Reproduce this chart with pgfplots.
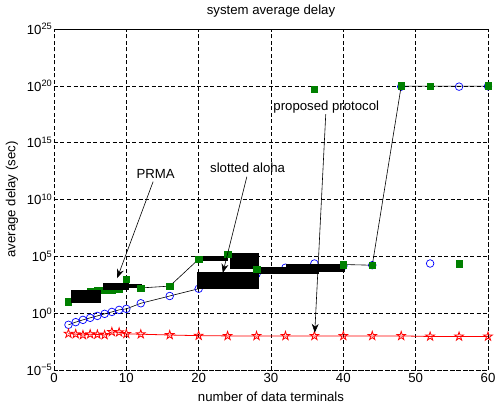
\documentclass[border=0pt]{standalone}
\usepackage{fontspec}
\setmainfont{Liberation Sans}
\usepackage{pgfplots}
\pgfplotsset{compat=1.18}
\usetikzlibrary{arrows.meta}

\pgfdeclareplotmark{pentagram}{%
  \pgfpathmoveto{\pgfqpoint{0pt}{\pgfplotmarksize}}%
  \pgfpathlineto{\pgfqpoint{-0.2245\pgfplotmarksize}{0.309\pgfplotmarksize}}%
  \pgfpathlineto{\pgfqpoint{-0.951\pgfplotmarksize}{0.309\pgfplotmarksize}}%
  \pgfpathlineto{\pgfqpoint{-0.363\pgfplotmarksize}{-0.118\pgfplotmarksize}}%
  \pgfpathlineto{\pgfqpoint{-0.588\pgfplotmarksize}{-0.809\pgfplotmarksize}}%
  \pgfpathlineto{\pgfqpoint{0pt}{-0.382\pgfplotmarksize}}%
  \pgfpathlineto{\pgfqpoint{0.588\pgfplotmarksize}{-0.809\pgfplotmarksize}}%
  \pgfpathlineto{\pgfqpoint{0.363\pgfplotmarksize}{-0.118\pgfplotmarksize}}%
  \pgfpathlineto{\pgfqpoint{0.951\pgfplotmarksize}{0.309\pgfplotmarksize}}%
  \pgfpathlineto{\pgfqpoint{0.2245\pgfplotmarksize}{0.309\pgfplotmarksize}}%
  \pgfpathclose
  \pgfusepathqstroke
}

\definecolor{mgreen}{RGB}{0,128,0}

\begin{document}
\fontsize{13.2}{15}\selectfont
\begin{tikzpicture}
\begin{axis}[
  scale only axis, width=434pt, height=341pt,
  xmin=0, xmax=60, ymode=log, ymin=1e-5, ymax=1e25,
  xtick={0,10,20,30,40,50,60},
  ytick={1e-5,1e0,1e5,1e10,1e15,1e20,1e25},
  yticklabels={10\textsuperscript{−5},10\textsuperscript{0},10\textsuperscript{5},10\textsuperscript{10},10\textsuperscript{15},10\textsuperscript{20},10\textsuperscript{25}},
  /pgf/number format/assume math mode=true,
  yminorticks=false, xminorticks=false,
  grid=major,
  major grid style={black, dash pattern=on 4pt off 2.5pt, line width=0.6pt},
  axis line style={black, dash pattern=on 4pt off 2.5pt, line width=0.6pt},
  tick style={draw=none},
  yticklabel style={inner xsep=1.5pt},
  xticklabel style={inner ysep=3pt},
  xlabel={number of data terminals},
  ylabel={average delay (sec)},
  title={system average delay},
  xlabel style={at={(axis description cs:0.5,-0.079)}, anchor=center},
  ylabel style={at={(axis description cs:-0.097,0.5)}, anchor=center},
  title style={at={(axis description cs:0.5,1)}, anchor=center, yshift=11.5pt},
  clip=false,
  clip mode=individual,
]
% slotted aloha (blue circles, black connecting line)
\addplot[black, line width=0.6pt, mark=o, mark size=3.8pt, mark options={draw=blue, line width=0.7pt}] coordinates {
 (2,9.5e-2) (3,0.162) (4,0.257) (5,0.389) (6,0.575) (7,0.871) (8,1.29) (9,1.95) (10,2.40)
 (12,7.41) (16,32.4) (20,141) (24,631) (28,2.8e3)
};
\addplot[only marks, mark=o, mark size=3.8pt, mark options={draw=blue, line width=0.7pt}] coordinates {
 (32,1e4) (36,2.34e4) (40,1.45e4) (44,1.66e4) (48,8.5e19) (52,2.34e4) (56,8.5e19) (60,9.1e19)
};
% PRMA (green squares), first points partly hidden by the black segments
\addplot[only marks, mark=square*, mark size=3.2pt, mark options={draw=mgreen, fill=mgreen}] coordinates {
 (2,10) (3,25) (4,45) (5,78) (6,100) (7,100) (8,110) (9,141)
};
% black thick segments
\addplot[fill=black, draw=black] coordinates {(2.35,10) (6.35,10) (6.35,95) (2.35,95)} -- cycle;
\addplot[fill=black, draw=black] coordinates {(6.8,126) (10.3,126) (10.3,398) (6.8,398)} -- cycle;
\addplot[fill=black, draw=black] coordinates {(10.3,200) (12,200) (12,355) (10.3,355)} -- cycle;
\addplot[fill=black, draw=black] coordinates {(20,44668) (24,44668) (24,1e5) (20,1e5)} -- cycle;
\addplot[fill=black, draw=black] coordinates {(24.3,8511) (28.2,8511) (28.2,1.74e5) (24.3,1.74e5)} -- cycle;
\addplot[fill=black, draw=black] coordinates {(19.8,155) (28.2,155) (28.2,3802) (19.8,3802)} -- cycle;
\addplot[fill=black, draw=black] coordinates {(28.2,3162) (36.5,3162) (36.5,11749) (28.2,11749)} -- cycle;
\addplot[fill=black, draw=black] coordinates {(32.1,5248) (40.1,5248) (40.1,22387) (32.1,22387)} -- cycle;
% thin black lines
\addplot[black, line width=0.6pt] coordinates {(12,166) (16,240) (20,5.6e4)};
\addplot[black, line width=0.6pt] coordinates {(40,1.9e4) (44,1.66e4) (48,9.5e19) (52,9.5e19) (56,9.5e19) (60,9.5e19)};
% PRMA (green squares), remaining points
\addplot[only marks, mark=square*, mark size=3.2pt, mark options={draw=mgreen, fill=mgreen}] coordinates {
 (10,933) (12,166) (16,240) (20,5.6e4) (24,1.58e5) (28,7.1e3) (36,5.2e19)
 (40,1.9e4) (44,1.66e4) (48,1e20) (52,9.1e19) (56,2.34e4) (60,1e20)
};
% proposed protocol (red stars)
\addplot[red, line width=0.8pt, mark=pentagram, mark size=4.5pt, mark options={solid}] coordinates {
 (2,0.0158) (3,0.0145) (4,0.0120) (5,0.0141) (6,0.0132) (7,0.0120) (8,0.0224) (9,0.0209) (10,0.0151)
 (12,0.0141) (16,0.0120) (20,0.0105) (24,0.0100) (28,0.0100) (32,0.0100) (36,0.0100) (40,0.0100)
 (44,0.0100) (48,0.0100) (52,0.0089) (56,0.0089) (60,0.0089)
};
% annotations
\draw[black, line width=0.6pt, -{Stealth[length=9pt,width=7pt,inset=3pt]}] (axis cs:13.7,3.7e11) -- (axis cs:8.74,1.23e3);
\draw[black, line width=0.6pt, -{Stealth[length=9pt,width=7pt,inset=3pt]}] (axis cs:26.66,1e12) -- (axis cs:23.34,3548);
\draw[black, line width=0.6pt, -{Stealth[length=9pt,width=7pt,inset=3pt]}] (axis cs:37.57,3.16e17) -- (axis cs:36.05,0.019);
\node[anchor=center] at (axis cs:14.06,1.8e12) {PRMA};
\node[anchor=center] at (axis cs:26.77,6.3e12) {slotted aloha};
\node[anchor=center] at (axis cs:37.64,1.3e18) {proposed protocol};
\end{axis}
\pgfresetboundingbox
\useasboundingbox (-54pt,-40pt) rectangle (441pt,370pt);
\end{tikzpicture}
\end{document}
